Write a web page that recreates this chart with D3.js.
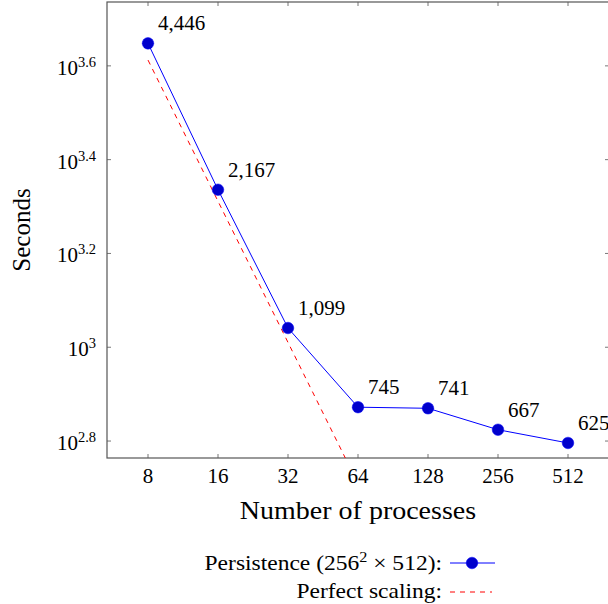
<!DOCTYPE html>
<html>
<head>
<meta charset="utf-8">
<script src="https://cdn.jsdelivr.net/npm/d3@7"></script>
<style>
  body { margin: 0; background: #fff; }
  svg { display: block; }
  text { font-family: "Liberation Serif", "DejaVu Serif", serif; fill: #000; }
</style>
</head>
<body>
<div id="chart"></div>
<script>
const processes = [8, 16, 32, 64, 128, 256, 512];
const seconds = [4446, 2167, 1099, 745, 741, 667, 625];
const perfect = [4096, 2048, 1024, 512, 256, 128, 64];
const yExponents = [2.8, 3.0, 3.2, 3.4, 3.6];

const width = 608, height = 604;
const margin = { top: 2, right: -1, bottom: 146, left: 107 };
const innerW = width - margin.left - margin.right;
const innerH = height - margin.top - margin.bottom;
const stretch = 1.12; // widen Liberation Serif towards Computer Modern proportions

const svg = d3.select("#chart").append("svg")
  .attr("width", width)
  .attr("height", height);

const x = d3.scaleLog().base(2)
  .domain([8 / Math.pow(2, 41 / 70), 512 * Math.pow(2, 41 / 70)])
  .range([0, innerW]);
const y = d3.scaleLog()
  .domain([Math.pow(10, 2.8 - 17 / 470), Math.pow(10, 3.6 + 64 / 470)])
  .range([innerH, 0]);

const g = svg.append("g").attr("transform", `translate(${margin.left},${margin.top})`);

svg.append("defs").append("clipPath").attr("id", "clip")
  .append("rect").attr("width", innerW).attr("height", innerH);

// ticks, inward on all four sides
const tickLen = 4;
const tickG = g.append("g").attr("stroke", "#777").attr("stroke-width", 1);
processes.forEach(p => {
  const px = x(p);
  tickG.append("line").attr("x1", px).attr("x2", px).attr("y1", innerH).attr("y2", innerH - tickLen);
  tickG.append("line").attr("x1", px).attr("x2", px).attr("y1", 0).attr("y2", tickLen);
});
yExponents.forEach(e => {
  const py = y(Math.pow(10, e));
  tickG.append("line").attr("x1", 0).attr("x2", tickLen).attr("y1", py).attr("y2", py);
  tickG.append("line").attr("x1", innerW).attr("x2", innerW - tickLen).attr("y1", py).attr("y2", py);
});

// axis box
g.append("rect")
  .attr("width", innerW).attr("height", innerH)
  .attr("fill", "none").attr("stroke", "#555").attr("stroke-width", 1.2);

// x tick labels
g.selectAll(".xlab").data(processes).join("text")
  .attr("class", "xlab")
  .attr("x", d => x(d))
  .attr("y", innerH + 25)
  .attr("text-anchor", "middle")
  .style("font-size", "21px")
  .text(d => d);

// y tick labels
const ylab = g.selectAll(".ylab").data(yExponents).join("text")
  .attr("class", "ylab")
  .attr("x", -11)
  .attr("y", d => y(Math.pow(10, d)) + 9)
  .attr("text-anchor", "end")
  .style("font-size", "21px");
ylab.append("tspan").text("10");
ylab.append("tspan")
  .attr("dy", -8)
  .style("font-size", "14.5px")
  .text(d => d === 3 ? "3" : d3.format(".1f")(d));

// axis titles
svg.append("text")
  .attr("transform", `translate(${margin.left + x(64)},519) scale(${stretch},1)`)
  .attr("text-anchor", "middle")
  .style("font-size", "25px")
  .text("Number of processes");

svg.append("text")
  .attr("transform", `translate(30,${margin.top + innerH / 2}) rotate(-90)`)
  .attr("text-anchor", "middle")
  .style("font-size", "25px")
  .text("Seconds");

// lines
const line = d3.line().x(d => x(d[0])).y(d => y(d[1]));
const plot = g.append("g").attr("clip-path", "url(#clip)");

plot.append("path")
  .datum(processes.map((p, i) => [p, perfect[i]]))
  .attr("d", line)
  .attr("fill", "none")
  .attr("stroke", "#ff0000")
  .attr("stroke-width", 1)
  .attr("stroke-dasharray", "5,5");

plot.append("path")
  .datum(processes.map((p, i) => [p, seconds[i]]))
  .attr("d", line)
  .attr("fill", "none")
  .attr("stroke", "#0000ff")
  .attr("stroke-width", 1);

g.selectAll(".dot").data(processes.map((p, i) => [p, seconds[i]])).join("circle")
  .attr("class", "dot")
  .attr("cx", d => x(d[0]))
  .attr("cy", d => y(d[1]))
  .attr("r", 5.8)
  .attr("fill", "#0000cc")
  .attr("stroke", "#0000ff")
  .attr("stroke-width", 0.5);

// point labels
g.selectAll(".plab").data(processes.map((p, i) => [p, seconds[i]])).join("text")
  .attr("class", "plab")
  .attr("x", d => x(d[0]) + 10)
  .attr("y", d => y(d[1]) - 13)
  .style("font-size", "21px")
  .text(d => d3.format(",")(d[1]));

// legend
const leg = svg.append("g");
const legX = 442;
const t1 = leg.append("text")
  .attr("transform", `translate(${legX},570) scale(${stretch},1)`)
  .attr("text-anchor", "end")
  .style("font-size", "21px");
t1.append("tspan").text("Persistence (256");
t1.append("tspan").attr("dy", -8).style("font-size", "14.5px").text("2");
t1.append("tspan").attr("dy", 8).text(" × 512):");

leg.append("line")
  .attr("x1", legX + 8).attr("x2", legX + 53)
  .attr("y1", 563).attr("y2", 563)
  .attr("stroke", "#0000ff").attr("stroke-width", 1);
leg.append("circle")
  .attr("cx", legX + 30).attr("cy", 563).attr("r", 5.8)
  .attr("fill", "#0000cc").attr("stroke", "#0000ff").attr("stroke-width", 0.5);

leg.append("text")
  .attr("transform", `translate(${legX},598) scale(${stretch},1)`)
  .attr("text-anchor", "end")
  .style("font-size", "21px")
  .text("Perfect scaling:");
leg.append("line")
  .attr("x1", legX + 8).attr("x2", legX + 50)
  .attr("y1", 592).attr("y2", 592)
  .attr("stroke", "#ff0000").attr("stroke-width", 1)
  .attr("stroke-dasharray", "5,5");
</script>
</body>
</html>
